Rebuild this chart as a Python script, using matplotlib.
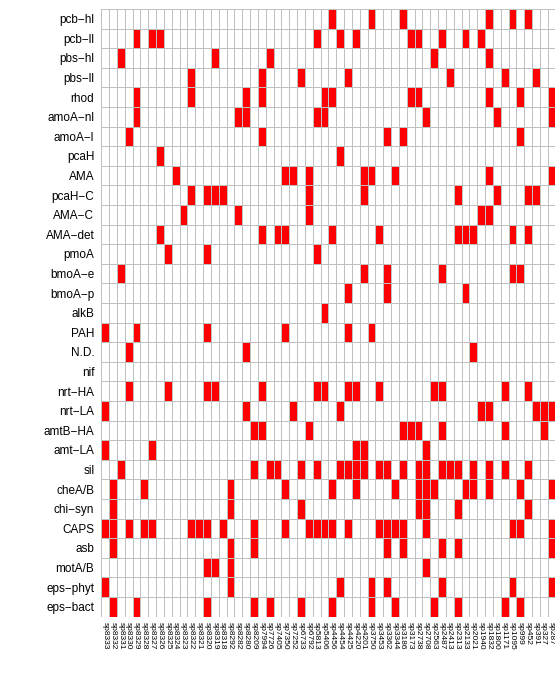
import numpy as np
import matplotlib.pyplot as plt

# gene groups (rows, top to bottom)
genes = ['pcb−hl', 'pcb−ll', 'pbs−hl', 'pbs−ll', 'rhod', 'amoA−nl', 'amoA−l', 'pcaH',
         'AMA', 'pcaH−C', 'AMA−C', 'AMA−det', 'pmoA', 'bmoA−e', 'bmoA−p', 'alkB',
         'PAH', 'N.D.', 'nif', 'nrt−HA', 'nrt−LA', 'amtB−HA', 'amt−LA', 'sil',
         'cheA/B', 'chi−syn', 'CAPS', 'asb', 'motA/B', 'eps−phyt', 'eps−bact']

# strains (columns, left to right)
strains = ['sp8333', 'sp8332', 'sp8331', 'sp8330', 'sp8329', 'sp8328', 'sp8327', 'sp8326',
           'sp8325', 'sp8324', 'sp8323', 'sp8322', 'sp8321', 'sp8320', 'sp8319', 'sp8318',
           'sp8292', 'sp8282', 'sp8280', 'sp8209', 'sp7994', 'sp7726', 'sp7405', 'sp7350',
           'sp7252', 'sp6733', 'sp6792', 'sp5813', 'sp5406', 'sp4456', 'sp4454', 'sp4425',
           'sp4220', 'sp4201', 'sp3750', 'sp3453', 'sp3362', 'sp3344', 'sp3186', 'sp3173',
           'sp2738', 'sp2708', 'sp2563', 'sp2487', 'sp2413', 'sp2313', 'sp2133', 'sp2021',
           'sp1940', 'sp1832', 'sp1800', 'sp1171', 'sp1095', 'sp999', 'sp452', 'sp391',
           'sp327', 'sp287']

# presence (red) per gene: indices into strains
present = [
    [29, 34, 38, 49, 52, 54],
    [4, 6, 7, 27, 30, 32, 39, 40, 43, 46, 48],
    [2, 14, 21, 42, 49],
    [11, 20, 25, 31, 44, 51, 55],
    [4, 11, 18, 20, 28, 29, 39, 40, 49, 53, 57],
    [4, 17, 18, 27, 28, 41, 50, 57],
    [3, 20, 36, 38, 53],
    [7, 30],
    [9, 23, 24, 26, 33, 34, 37, 49, 57],
    [11, 13, 14, 15, 26, 33, 45, 50, 54, 55],
    [10, 17, 26, 48, 49],
    [7, 20, 22, 23, 29, 35, 45, 46, 47, 52, 54],
    [8, 13, 27],
    [2, 33, 36, 43, 52, 53],
    [31, 36, 46],
    [28],
    [0, 4, 13, 23, 31, 34],
    [3, 18, 47],
    [],
    [3, 8, 13, 14, 20, 27, 28, 31, 32, 35, 42, 43, 51, 54],
    [0, 18, 24, 30, 48, 49, 55, 56, 57],
    [19, 20, 26, 38, 39, 40, 43, 51, 56],
    [0, 6, 32, 33, 41],
    [2, 19, 21, 22, 25, 27, 30, 31, 32, 33, 35, 36, 38, 40, 41, 43, 44, 45, 47, 49, 51, 54],
    [1, 5, 16, 23, 29, 32, 37, 40, 41, 42, 46, 47, 49, 53, 57],
    [1, 16, 25, 40, 41, 45, 54],
    [0, 1, 3, 5, 6, 11, 12, 13, 15, 19, 23, 26, 27, 28, 29, 31, 35, 36, 37, 38, 41, 52, 53, 57],
    [1, 16, 19, 36, 38, 43, 45, 57],
    [13, 14, 16, 41],
    [0, 16, 30, 34, 36, 43, 52, 57],
    [1, 4, 13, 19, 21, 25, 29, 34, 37, 42, 45, 51, 53],
]

mat = np.zeros((len(genes), len(strains)))
for i, idx in enumerate(present):
    mat[i, idx] = 1

plt.rcParams['font.family'] = ['Liberation Sans', 'DejaVu Sans']

fig = plt.figure(figsize=(5.55, 6.81), dpi=100)
ax = fig.add_axes([101.3 / 555, 1 - 616.5 / 681, 454.2 / 555, 607.5 / 681])

cmap = plt.matplotlib.colors.ListedColormap(['white', '#ff0000'])
ax.pcolormesh(mat, cmap=cmap, vmin=0, vmax=1, edgecolors='#c0c0c0', linewidth=0.7)
ax.set_xlim(0, len(strains))
ax.set_ylim(len(genes), 0)

ax.set_yticks(np.arange(len(genes)) + 0.5)
ax.set_yticklabels(genes, fontsize=8.5)
ax.set_xticks(np.arange(len(strains)) + 0.5)
ax.set_xticklabels(strains, fontsize=6, rotation=270, va='top', ha='center')
ax.tick_params(axis='both', length=0)
ax.tick_params(axis='x', pad=4)
ax.tick_params(axis='y', pad=5)
for s in ax.spines.values():
    s.set_visible(False)

fig.savefig('out.png', dpi=100)
